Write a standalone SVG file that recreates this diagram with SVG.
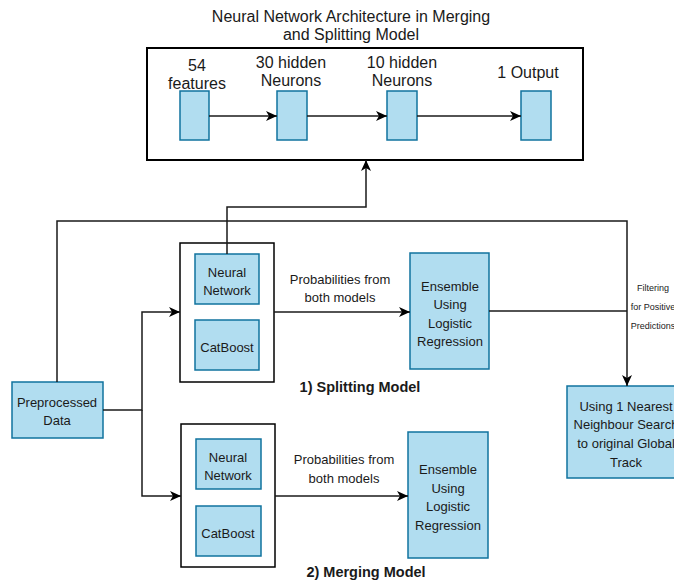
<svg xmlns="http://www.w3.org/2000/svg" width="674" height="581" viewBox="0 0 674 581">
<style>
text{font-family:"Liberation Sans",Arial,sans-serif;fill:#1a1a1a;text-anchor:middle;dominant-baseline:central}
.n{fill:#b1ddf0;stroke:#10739e;stroke-width:1.5}
.c{fill:#fff;stroke:#000;stroke-width:1.5}
.l{fill:none;stroke:#1a1a1a;stroke-width:1.5}
.t13{font-size:13px}
.t16{font-size:16px}
.t12{font-size:13px}
.b{font-weight:bold;font-size:14.5px}
</style>
<defs>
<marker id="a" markerUnits="userSpaceOnUse" markerWidth="12" markerHeight="10" refX="11" refY="5" orient="auto">
<path d="M0,0 L11,5 L0,10 L3,5 z" fill="#000"/>
</marker>
</defs>
<rect width="674" height="581" fill="#fff"/>
<text class="t16" x="351" y="16">Neural Network Architecture in Merging</text>
<text class="t16" x="351" y="34">and Splitting Model</text>
<g id="nn-arch">
<rect x="147" y="48" width="436" height="112" fill="#fff" stroke="#000" stroke-width="2"/>
</g>
<g id="in54"><rect class="n" x="180" y="91" width="29" height="49"/><text class="t16" x="197" y="65">54</text><text class="t16" x="197" y="83">features</text></g>
<g id="h30"><rect class="n" x="277" y="91" width="30" height="49"/><text class="t16" x="291" y="62">30 hidden</text><text class="t16" x="291" y="80">Neurons</text></g>
<g id="h10"><rect class="n" x="387" y="91" width="30" height="49"/><text class="t16" x="402" y="62">10 hidden</text><text class="t16" x="402" y="80">Neurons</text></g>
<g id="out1"><rect class="n" x="521" y="91" width="30" height="49"/><text class="t16" x="528" y="72">1 Output</text></g>

<g id="split-box"><rect class="c" x="180" y="243" width="94" height="139"/></g>
<g id="nn1"><rect class="n" x="195" y="254" width="64" height="50"/><text class="t13" x="227" y="272">Neural</text><text class="t13" x="227" y="290">Network</text></g>
<g id="cb1"><rect class="n" x="195" y="320" width="64" height="50"/><text class="t13" x="227" y="347">CatBoost</text></g>
<g id="ens1"><rect class="n" x="410" y="253" width="79" height="116"/><text class="t13" x="450" y="286">Ensemble</text><text class="t13" x="450" y="304">Using</text><text class="t13" x="450" y="323">Logistic</text><text class="t13" x="450" y="341">Regression</text></g>
<text class="b" x="360" y="387">1) Splitting Model</text>

<g id="merge-box"><rect class="c" x="181" y="424" width="94" height="143"/></g>
<g id="nn2"><rect class="n" x="196" y="439" width="65" height="50"/><text class="t13" x="228" y="457">Neural</text><text class="t13" x="228" y="475">Network</text></g>
<g id="cb2"><rect class="n" x="196" y="506" width="65" height="50"/><text class="t13" x="228" y="533">CatBoost</text></g>
<g id="ens2"><rect class="n" x="408" y="432" width="80" height="126"/><text class="t13" x="448" y="469">Ensemble</text><text class="t13" x="448" y="488">Using</text><text class="t13" x="448" y="506">Logistic</text><text class="t13" x="448" y="525">Regression</text></g>
<text class="b" x="366" y="572">2) Merging Model</text>

<g id="prep"><rect class="n" x="12" y="382" width="91" height="56"/><text class="t13" x="57" y="402">Preprocessed</text><text class="t13" x="57" y="420">Data</text></g>
<g id="knn"><rect class="n" x="567" y="386" width="118" height="92"/><text class="t13" x="626" y="406">Using 1 Nearest</text><text class="t13" x="626" y="424">Neighbour Search</text><text class="t13" x="626" y="443">to original Global</text><text class="t13" x="626" y="462">Track</text></g>

<g id="connectors">
<path class="l" d="M209,116 H277" marker-end="url(#a)"/>
<path class="l" d="M307,116 H387" marker-end="url(#a)"/>
<path class="l" d="M417,116 H521" marker-end="url(#a)"/>
<path class="l" d="M227,254 V207 H366 V160" marker-end="url(#a)"/>
<path class="l" d="M57,382 V221 H627 V386" marker-end="url(#a)"/>
<path class="l" d="M103,410 H142 V312 H180" marker-end="url(#a)"/>
<path class="l" d="M142,410 V496 H181" marker-end="url(#a)"/>
<path class="l" d="M274,312 H410" marker-end="url(#a)"/>
<path class="l" d="M489,311 H627"/>
<path class="l" d="M275,496 H408" marker-end="url(#a)"/>
</g>
<text class="t12" x="340" y="279">Probabilities from</text>
<text class="t12" x="340" y="297">both models</text>
<text class="t12" x="344" y="459">Probabilities from</text>
<text class="t12" x="344" y="478">both models</text>
<text x="653" y="288" font-size="9">Filtering</text>
<text x="653" y="307" font-size="9">for Positive</text>
<text x="653" y="326" font-size="9">Predictions</text>
</svg>
